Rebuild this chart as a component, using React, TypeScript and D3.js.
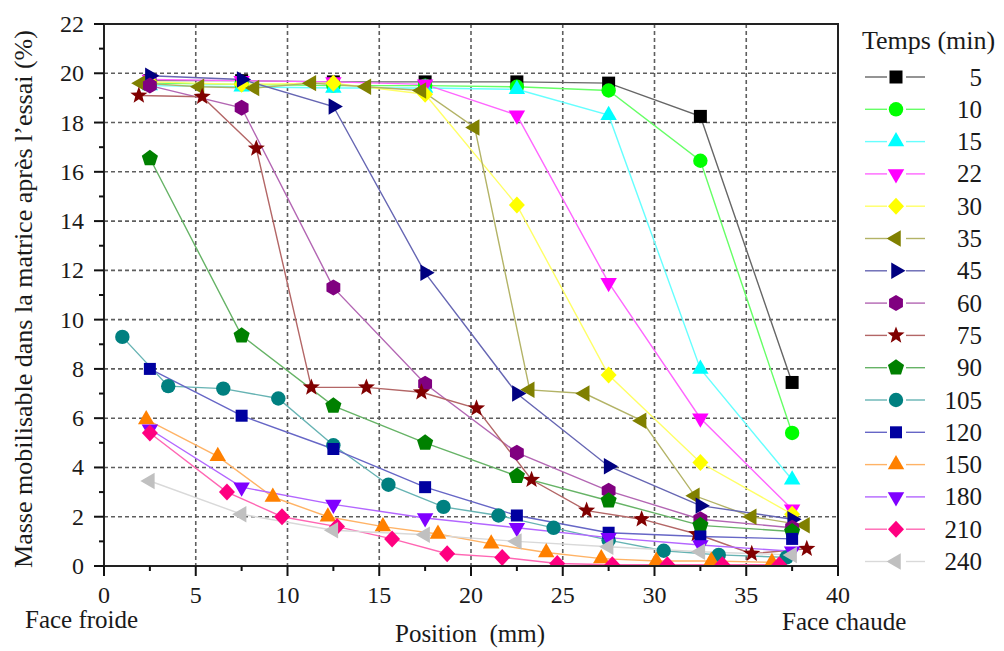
import React from "react";
import * as d3 from "d3";

// ---------- data ----------
const XSTD = [2.5, 7.5, 12.5, 17.5, 22.5, 27.5, 32.5, 37.5];

const t5 = [19.7, 19.7, 19.65, 19.65, 19.65, 19.6, 18.25, 7.45];
const t10 = [19.6, 19.55, 19.5, 19.5, 19.45, 19.3, 16.45, 5.4];
const t15 = [19.5, 19.45, 19.4, 19.4, 19.35, 18.3, 8.0, 3.5];
const t22 = [19.75, 19.7, 19.65, 19.55, 18.3, 11.5, 6.0, 2.3];
const t30 = [19.65, 19.55, 19.6, 19.15, 14.65, 7.75, 4.2, 2.1];
const x35 = [2.0, 5.2, 8.2, 11.3, 14.3, 17.3, 20.2, 23.2, 26.2, 29.3, 32.2, 35.3, 38.2];
const t35 = [19.6, 19.45, 19.4, 19.6, 19.45, 19.3, 17.8, 7.15, 7.0, 5.9, 2.85, 2.0, 1.65];
const t45 = [19.9, 19.75, 18.65, 11.9, 7.0, 4.05, 2.45, 1.9];
const t60 = [19.5, 18.6, 11.3, 7.4, 4.6, 3.05, 1.9, 1.55];
const x75 = [1.9, 5.35, 8.3, 11.3, 14.3, 17.3, 20.3, 23.3, 26.3, 29.3, 32.3, 35.3, 38.3];
const t75 = [19.1, 19.05, 16.95, 7.25, 7.25, 7.05, 6.4, 3.5, 2.25, 1.9, 1.3, 0.5, 0.7];
const t90 = [16.55, 9.35, 6.5, 5.0, 3.65, 2.65, 1.65, 1.4];
const x105 = [1.0, 3.5, 6.5, 9.5, 12.5, 15.5, 18.5, 21.5, 24.5, 27.5, 30.5, 33.5, 37.2];
const t105 = [9.3, 7.3, 7.2, 6.8, 4.9, 3.3, 2.4, 2.05, 1.55, 1.05, 0.62, 0.45, 0.35];
const t120 = [8.0, 6.1, 4.75, 3.2, 2.05, 1.35, 1.2, 1.1];
const x150 = [2.3, 6.2, 9.2, 12.2, 15.2, 18.2, 21.1, 24.1, 27.1, 30.1, 33.1, 36.4];
const t150 = [5.95, 4.45, 2.8, 2.0, 1.6, 1.3, 0.9, 0.55, 0.3, 0.2, 0.2, 0.15];
const t180 = [5.55, 3.2, 2.5, 1.95, 1.55, 1.15, 0.85, 0.6];
const x210 = [2.5, 6.7, 9.7, 12.7, 15.7, 18.7, 21.7, 24.7, 27.7, 30.7, 33.7, 36.8];
const t210 = [5.4, 3.0, 2.0, 1.6, 1.1, 0.5, 0.35, 0.1, 0.05, 0.05, 0.05, 0.05];
const t240 = [3.45, 2.1, 1.45, 1.27, 1.0, 0.78, 0.58, 0.45];

const LABELS = ["5", "10", "15", "22", "30", "35", "45", "60", "75", "90", "105", "120", "150", "180", "210", "240"];
const COLORS = ["#000000", "#00ff00", "#00ffff", "#ff00ff", "#ffff00", "#808000", "#000080", "#800080",
  "#800000", "#008000", "#008080", "#0000a0", "#ff8000", "#8000ff", "#ff0080", "#c0c0c0"];
const SHAPES = ["square", "circle", "up", "down", "diamond", "left", "right", "hexagon",
  "star", "pentagon", "circle", "square", "up", "down", "diamond", "left"];
const XS = [XSTD, XSTD, XSTD, XSTD, XSTD, x35, XSTD, XSTD, x75, XSTD, x105, XSTD, x150, XSTD, x210, XSTD];
const YS = [t5, t10, t15, t22, t30, t35, t45, t60, t75, t90, t105, t120, t150, t180, t210, t240];

const X_TICKS = [0, 5, 10, 15, 20, 25, 30, 35, 40];
const Y_TICKS = [0, 2, 4, 6, 8, 10, 12, 14, 16, 18, 20, 22];

// ---------- layout ----------
const W = 1004, H = 651;
const L = 104, R = 838, T = 24, B = 566;
const FONT = "'Liberation Serif', 'Times New Roman', Times, serif";
const TXT: React.CSSProperties = { fontFamily: FONT };

const x = d3.scaleLinear().domain([0, 40]).range([L, R]);
const y = d3.scaleLinear().domain([0, 22]).range([B, T]);

function poly(n: number, r: number, rot: number) {
  const pts: [number, number][] = [];
  for (let i = 0; i < n; i++) {
    const a = rot + (i * 2 * Math.PI) / n;
    pts.push([r * Math.cos(a), r * Math.sin(a)]);
  }
  return "M" + pts.map((p) => p[0].toFixed(2) + "," + p[1].toFixed(2)).join("L") + "Z";
}
function starPath(ro: number, ri: number) {
  const pts: [number, number][] = [];
  for (let i = 0; i < 10; i++) {
    const r = i % 2 === 0 ? ro : ri;
    const a = -Math.PI / 2 + (i * Math.PI) / 5;
    pts.push([r * Math.cos(a), r * Math.sin(a)]);
  }
  return "M" + pts.map((p) => p[0].toFixed(2) + "," + p[1].toFixed(2)).join("L") + "Z";
}
function shapePath(shape: string, idx: number) {
  switch (shape) {
    case "square": {
      const h = idx === 0 ? 6.5 : 6;
      return `M${-h},${-h}H${h}V${h}H${-h}Z`;
    }
    case "circle":
      return d3.symbol(d3.symbolCircle, Math.PI * 7.2 * 7.2)() as string;
    case "up":
      return poly(3, 9.5, -Math.PI / 2);
    case "down":
      return poly(3, 9.5, Math.PI / 2);
    case "left":
      return poly(3, 9.5, Math.PI);
    case "right":
      return poly(3, 9.5, 0);
    case "diamond":
      return `M0,-8.5L8,0L0,8.5L-8,0Z`;
    case "hexagon":
      return poly(6, 8, -Math.PI / 2);
    case "pentagon":
      return poly(5, 8.5, -Math.PI / 2);
    case "star":
      return starPath(9, 3.8);
  }
  return "";
}

function lighten(c: string) {
  return d3.interpolateRgb(c, "#ffffff")(0.4);
}

export default function App() {
  const line = d3.line<[number, number]>().x((d) => x(d[0])).y((d) => y(d[1]));
  const xMinor = d3.range(0, 40.01, 2.5);
  const yMinor = d3.range(0, 22.01, 1);
  const legendY = (i: number) => 77 + i * 32.3;

  return (
    <svg width={W} height={H} style={{ display: "block", position: "absolute", left: 0, top: 0 }}>
      <defs>
        <clipPath id="plot">
          <rect x={L} y={T} width={R - L} height={B - T} />
        </clipPath>
      </defs>
      <rect x={0} y={0} width={W} height={H} fill="#fff" />
      {/* grid */}
      <g stroke="#5e5e5e" strokeWidth={1.6} strokeDasharray="4,3">
        {X_TICKS.filter((v) => v > 0 && v < 40).map((v) => (
          <line key={"gx" + v} x1={x(v)} x2={x(v)} y1={T} y2={B} />
        ))}
        {Y_TICKS.filter((v) => v > 0 && v < 22).map((v) => (
          <line key={"gy" + v} x1={L} x2={R} y1={y(v)} y2={y(v)} />
        ))}
      </g>
      {/* series */}
      <g clipPath="url(#plot)">
        {YS.map((ys, i) => {
          const pts = ys.map((v, j) => [XS[i][j], v] as [number, number]);
          return (
            <path key={"l" + i} d={line(pts) as string} fill="none" stroke={lighten(COLORS[i])}
              strokeWidth={1.4} />
          );
        })}
        {YS.map((ys, i) => (
          <g key={"m" + i} fill={COLORS[i]}>
            {ys.map((v, j) => (
              <path key={j} d={shapePath(SHAPES[i], i)}
                transform={`translate(${x(XS[i][j])},${y(v)})`} />
            ))}
          </g>
        ))}
      </g>
      {/* frame */}
      <rect x={L} y={T} width={R - L} height={B - T} fill="none" stroke="#222" strokeWidth={2} />
      {/* ticks */}
      <g stroke="#111" strokeWidth={2}>
        {xMinor.map((v) => (
          <line key={"tx" + v} x1={x(v)} x2={x(v)} y1={B} y2={B + (v % 5 === 0 ? 10 : 5)} />
        ))}
        {yMinor.map((v) => (
          <line key={"ty" + v} x1={L} x2={L - (v % 2 === 0 ? 10 : 5)} y1={y(v)} y2={y(v)} />
        ))}
      </g>
      {X_TICKS.map((v) => (
        <text key={"xl" + v} x={x(v)} y={603} textAnchor="middle" fontSize={24} fill="#1a1a1a" style={TXT}>{v}</text>
      ))}
      {Y_TICKS.map((v) => (
        <text key={"yl" + v} x={84} y={y(v) + 8} textAnchor="end" fontSize={24} fill="#1a1a1a" style={TXT}>{v}</text>
      ))}
      {/* axis titles */}
      <text x={25} y={628} fontSize={25} fill="#1a1a1a" style={TXT}>Face froide</text>
      <text x={782} y={630} fontSize={25} fill="#1a1a1a" style={TXT}>Face chaude</text>
      <text x={470} y={642} fontSize={25} fill="#1a1a1a" textAnchor="middle" style={{ ...TXT, whiteSpace: "pre" }}>
        {"Position  (mm)"}
      </text>
      <text transform="translate(32,299) rotate(-90)" fontSize={26} fill="#1a1a1a" textAnchor="middle" style={TXT}>
        Masse mobilisable dans la matrice après l’essai (%)
      </text>
      {/* legend */}
      <text x={862} y={49} fontSize={26} fill="#1a1a1a" style={TXT}>Temps (min)</text>
      {LABELS.map((lab, i) => {
        const cy = legendY(i);
        return (
          <g key={"lg" + i}>
            <line x1={865} x2={887} y1={cy} y2={cy} stroke={lighten(COLORS[i])} strokeWidth={1.4} />
            <line x1={906} x2={925} y1={cy} y2={cy} stroke={lighten(COLORS[i])} strokeWidth={1.4} />
            <path d={shapePath(SHAPES[i], i)} transform={`translate(896,${cy})`} fill={COLORS[i]} />
            <text x={982} y={cy + 8.5} fontSize={25} fill="#1a1a1a" textAnchor="end" style={TXT}>{lab}</text>
          </g>
        );
      })}
    </svg>
  );
}
